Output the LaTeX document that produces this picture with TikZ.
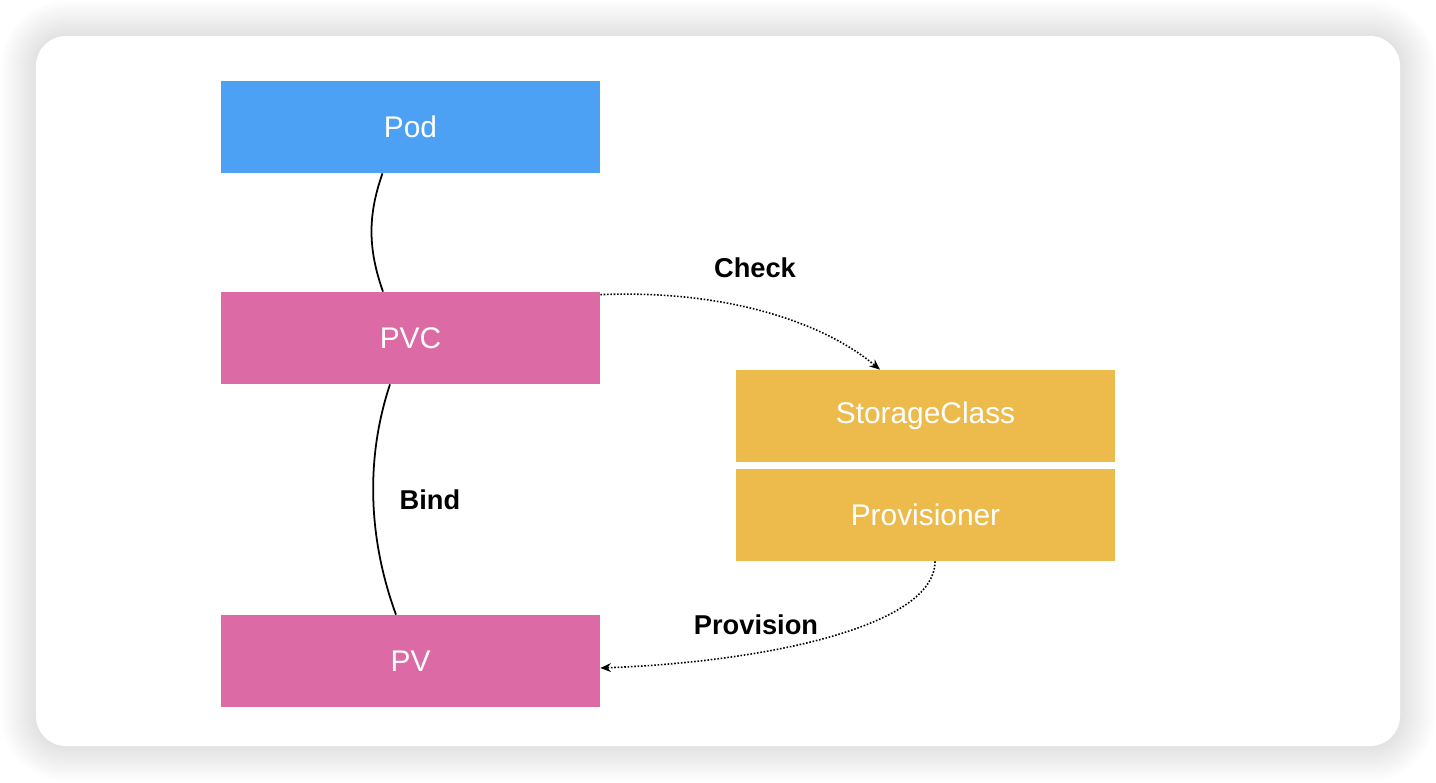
\documentclass[tikz,border=0pt]{standalone}
\usepackage{fontspec}
\setmainfont{Liberation Sans}
\usetikzlibrary{arrows.meta}

\definecolor{podblue}{HTML}{4DA1F5}
\definecolor{pvpink}{HTML}{DC6BA5}
\definecolor{scyellow}{HTML}{EDBB4B}

\begin{document}
\begin{tikzpicture}[
  box/.style={minimum width=7.58cm, minimum height=1.84cm, inner sep=0pt,
    text=white, font=\fontsize{17}{20}\selectfont},
  lbl/.style={font=\bfseries\fontsize{15.5}{18}\selectfont},
  link/.style={line width=1pt},
  flow/.style={densely dotted, line width=0.9pt, -{Stealth[length=6pt,width=5pt]}}
]
\useasboundingbox (0, 0) rectangle (28.72, -15.64);

% card with soft shadow
\foreach \i in {1,...,14}
  \fill[black, opacity=0.008, rounded corners=0.6cm+\i*0.05cm]
    (0.72-\i*0.05, -0.72+\i*0.05) rectangle (28.0+\i*0.05, -14.92-\i*0.05);
\fill[white, rounded corners=0.6cm] (0.72, -0.72) rectangle (28.0, -14.92);

\node[box, fill=podblue] (pod) at (8.21, -2.54) {Pod};
\node[box, fill=pvpink] (pvc) at (8.21, -6.76) {PVC};
\node[box, fill=pvpink] (pv) at (8.21, -13.22) {PV};
\node[box, fill=scyellow] (sc) at (18.51, -8.32) {StorageClass};
\node[box, fill=scyellow] (prov) at (18.51, -10.30) {Provisioner};

\node[lbl] (check) at (15.1, -5.36) {Check};
\node[lbl] (provision) at (15.12, -12.5) {Provision};
\node[lbl] (bind) at (8.6, -10.0) {Bind};

\draw[link] ([xshift=-0.56cm]pod.south) .. controls +(-0.3, -0.85) and +(-0.3, 0.85) .. ([xshift=-0.55cm]pvc.north);
\draw[link] ([xshift=-0.41cm]pvc.south) .. controls +(-0.5, -1.5) and +(-0.55, 1.5) .. ([xshift=-0.29cm]pv.north);

\draw[flow] ([yshift=-0.06cm]pvc.north east) .. controls +(2.4, 0.1) and +(-1.2, 1.0) .. ([xshift=-0.91cm]sc.north);
\draw[flow] ([xshift=0.19cm]prov.south) .. controls +(0, -1.3) and +(3.3, 0.12) .. ([yshift=-0.14cm]pv.east);

\end{tikzpicture}
\end{document}
